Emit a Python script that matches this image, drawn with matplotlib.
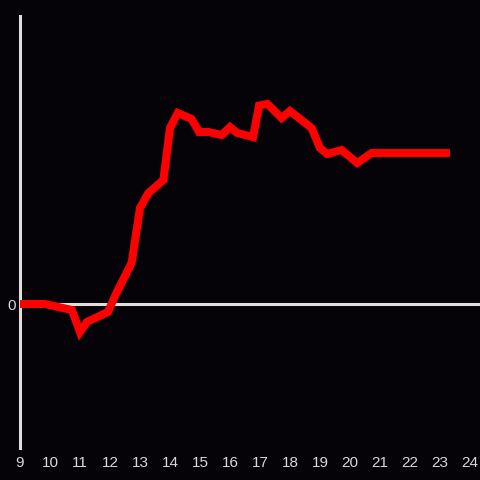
import matplotlib
matplotlib.use("Agg")
import matplotlib.pyplot as plt

# Data (hours vs. value, arbitrary units)
hours = [9.0, 9.83, 10.73, 11.0, 11.23, 11.93, 12.23, 12.72, 13.0, 13.28, 13.78,
         14.0, 14.26, 14.72, 14.97, 15.28, 15.72, 16.0, 16.24, 16.77, 16.97,
         17.25, 17.72, 18.0, 18.72, 19.0, 19.24, 19.72, 20.24, 20.72, 23.33]
values = [0, 0, -6, -28, -18, -8, 12, 41, 96, 111, 124,
          176, 191, 185, 172, 172, 169, 177, 171, 167, 198.5,
          200, 186, 193, 176, 156, 150, 154, 141, 151, 151]
xticks = list(range(9, 25))
xtick_labels = [str(t) for t in xticks]
yticks = [0]
ytick_labels = ["0"]

bg = "#050308"
axis_col = "#dedede"
text_col = "#d8d8d8"

fig = plt.figure(figsize=(4.8, 4.8), dpi=100, facecolor=bg)
ax = fig.add_axes([20/480, 32/480, 460/480, 432/480])
ax.set_facecolor(bg)

ax.set_xlim(9, 9 + 460/30)
ax.set_ylim(-144, 288)

for s in ["top", "right", "bottom"]:
    ax.spines[s].set_visible(False)
ax.spines["left"].set_color(axis_col)
ax.spines["left"].set_linewidth(2.2)

ax.axhline(0, color=axis_col, lw=2.2, zorder=1)

ax.plot(hours, values, color="#ff0000", lw=5.8, solid_joinstyle="miter",
        solid_capstyle="butt", zorder=3, clip_on=False)

ax.set_xticks(xticks)
ax.set_xticklabels(xtick_labels)
ax.set_yticks(yticks)
ax.set_yticklabels(ytick_labels)
ax.tick_params(axis="x", length=0, pad=5.5, colors=text_col, labelsize=11)
ax.tick_params(axis="y", length=0, pad=3, colors=text_col, labelsize=11)
for lab in ax.get_xticklabels() + ax.get_yticklabels():
    lab.set_family("Liberation Sans")

fig.savefig("out.png", dpi=100, facecolor=bg)
